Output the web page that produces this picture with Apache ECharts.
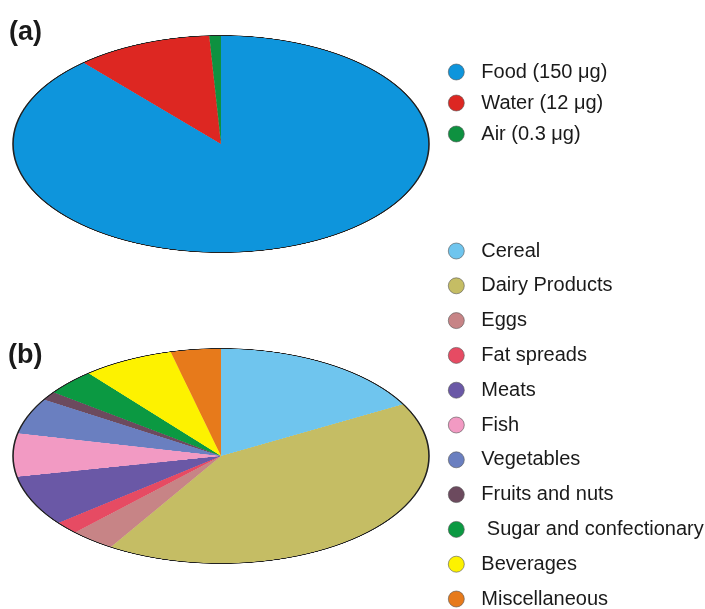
<!DOCTYPE html>
<html>
<head>
<meta charset="utf-8">
<script src="https://cdn.jsdelivr.net/npm/echarts@6/dist/echarts.min.js"></script>
<style>
  html, body { margin: 0; padding: 0; background: #ffffff; overflow: hidden; width: 705px; height: 609px; }
  #main { position: absolute; left: 0; top: 0; width: 705px; height: 660px; }
  .pie { position: absolute; width: 420px; height: 420px; transform-origin: 50% 50%; }
  #pieA { left: 11px; top: -66px; transform: scaleY(0.5216); }
  #pieB { left: 11px; top: 246px; transform: scaleY(0.5168); }
</style>
</head>
<body>
<div id="main"></div>
<div id="pieA" class="pie"></div>
<div id="pieB" class="pie"></div>
<script>
// ---- Data ----
// (a) sources of intake: legend labels and slice shares
const sourceNames = ['Food (150 \u03bcg)', 'Water (12 \u03bcg)', 'Air (0.3 \u03bcg)'];
const sourceShares = [88.5, 10.6, 0.9];
const sourceColors = ['#0e95dc', '#dd2722', '#0e9140'];

// (b) food groups: slice shares (%)
const groupNames = ['Cereal', 'Dairy Products', 'Eggs', 'Fat spreads', 'Meats', 'Fish',
  'Vegetables', 'Fruits and nuts', 'Sugar and confectionary', 'Beverages', 'Miscellaneous'];
const groupShares = [17.0, 41.9, 3.5, 1.9, 7.6, 6.5, 5.4, 1.3, 3.9, 7.1, 3.9];
const groupColors = ['#6fc5ee', '#c5bd64', '#c78486', '#e64b63', '#6a58a6', '#f29ac3',
  '#6a7fc0', '#6c4a5e', '#0b9942', '#fdf200', '#e77a1b'];

function buildData(names, values, colors) {
  return names.map((n, i) => ({ name: n, value: values[i], itemStyle: { color: colors[i] } }));
}
const dataA = buildData(sourceNames, sourceShares, sourceColors);
const dataB = buildData(groupNames, groupShares, groupColors);

const fontFamily = '"Liberation Sans", Arial, sans-serif';

// ---- Main canvas: titles and legends ----
const main = echarts.init(document.getElementById('main'), null, { renderer: 'canvas' });
function hiddenPie(data) {
  return {
    type: 'pie', radius: [0, 0], center: [-200, -200], silent: true,
    label: { show: false }, labelLine: { show: false }, data: data
  };
}
const legendCommon = {
  orient: 'vertical', icon: 'circle', itemWidth: 40, itemHeight: 16, padding: 0,
  selectedMode: false,
  itemStyle: { borderColor: '#555', borderWidth: 0.6 },
  formatter: name => (name === 'Sugar and confectionary' ? ' ' + name : name),
  textStyle: { fontFamily: fontFamily, fontSize: 20, color: '#1a1a1a', lineHeight: 20 }
};
const titleStyle = { fontFamily: fontFamily, fontSize: 27, fontWeight: 'bold', color: '#1a1a1a' };
main.setOption({
  animation: false,
  title: [
    { text: '(a)', left: 9, top: 19, padding: 0, textStyle: titleStyle },
    { text: '(b)', left: 8, top: 342, padding: 0, textStyle: titleStyle }
  ],
  legend: [
    Object.assign({}, legendCommon, { left: 448, top: 62, itemGap: 11, data: sourceNames }),
    Object.assign({}, legendCommon, { left: 448, top: 241, itemGap: 14.8, data: groupNames })
  ],
  series: [hiddenPie(dataA), hiddenPie(dataB)]
});

// ---- Pies (circles drawn by ECharts, squeezed to ellipses with CSS) ----
function pieOption(data) {
  return {
    animation: false,
    series: [
      {
        type: 'pie', radius: 208, center: ['50%', '50%'], startAngle: 90, clockwise: true,
        silent: true, label: { show: false }, labelLine: { show: false },
        itemStyle: { borderWidth: 0 }, data: data
      },
      {
        type: 'pie', radius: 208, center: ['50%', '50%'], silent: true,
        label: { show: false }, labelLine: { show: false },
        itemStyle: { color: 'rgba(0,0,0,0)', borderColor: '#222', borderWidth: 1.6 },
        data: [{ name: 'outline', value: 1 }]
      }
    ]
  };
}
const pieA = echarts.init(document.getElementById('pieA'), null, { renderer: 'canvas', devicePixelRatio: 2 });
pieA.setOption(pieOption(dataA));
const pieB = echarts.init(document.getElementById('pieB'), null, { renderer: 'canvas', devicePixelRatio: 2 });
pieB.setOption(pieOption(dataB));
</script>
</body>
</html>
